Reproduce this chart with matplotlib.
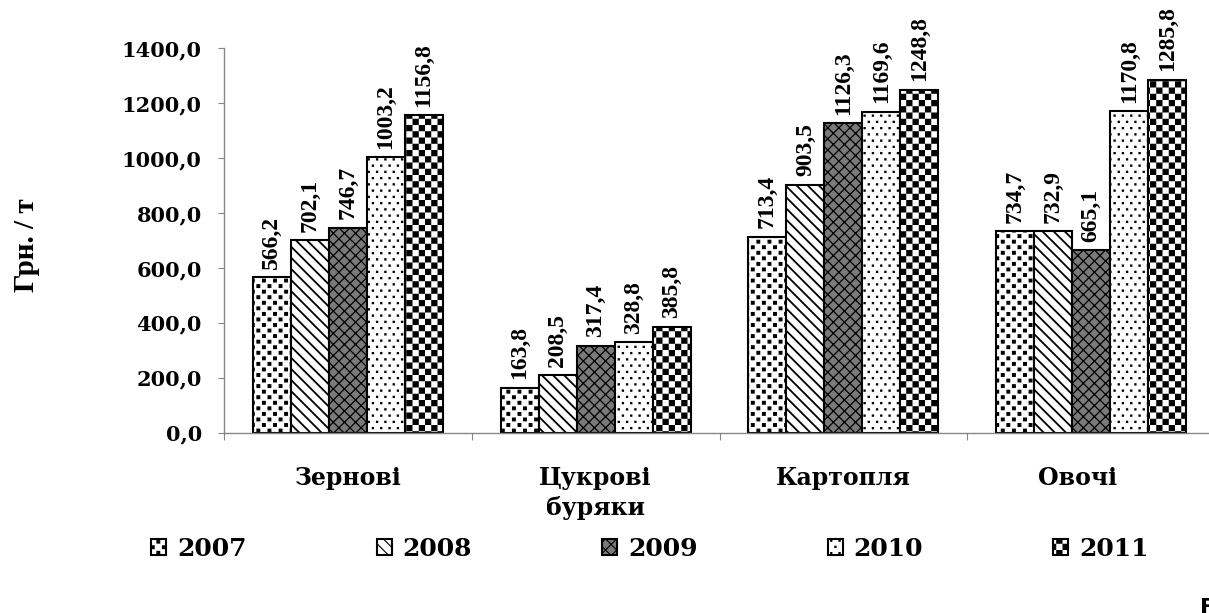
import warnings
warnings.filterwarnings('ignore')
import numpy as np
import matplotlib
matplotlib.use('Agg')
import matplotlib.pyplot as plt
import matplotlib.hatch as mhatch
import matplotlib.transforms as mtrans
from matplotlib.path import Path

# ---------------- data ----------------
categories = ['Зернові', 'Цукрові\nбуряки', 'Картопля', 'Овочі']
years = ['2007', '2008', '2009', '2010', '2011']
v2007 = [566.2, 163.8, 713.4, 734.7]
v2008 = [702.1, 208.5, 903.5, 732.9]
v2009 = [746.7, 317.4, 1126.3, 665.1]
v2010 = [1003.2, 328.8, 1169.6, 1170.8]
v2011 = [1156.8, 385.8, 1248.8, 1285.8]
yticks = [0, 200, 400, 600, 800, 1000, 1200, 1400]
ylabel = 'Грн. / т'

# ---------------- custom fill patterns ----------------
HATCH_LW = 0.8                      # points
LW_U = HATCH_LW / 72.0              # stroke width in hatch-unit coords

mhatch._validate_hatch_pattern = lambda h: None


class _SquaresHatch(mhatch.HatchPatternBase):
    char = None

    def __init__(self, hatch, density):
        self.squares = self.build() if (hatch and self.char in hatch) else []
        self.num_vertices = 5 * len(self.squares)

    def set_vertices_and_codes(self, vertices, codes):
        verts = []
        for cx, cy, s in self.squares:
            h = s / 2
            verts.extend([(cx - h, cy - h), (cx + h, cy - h), (cx + h, cy + h),
                          (cx - h, cy + h), (cx - h, cy - h)])
        vertices[:] = np.array(verts)
        c = np.array([Path.MOVETO, Path.LINETO, Path.LINETO, Path.LINETO,
                      Path.CLOSEPOLY], dtype=Path.code_type)
        codes[:] = np.tile(c, len(self.squares))


class CheckerHatch(_SquaresHatch):
    char = 'c'

    def build(self):
        n = 16
        s = 1.0 / n - LW_U
        return [((i + 0.5) / n, (j + 0.5) / n, s)
                for i in range(n) for j in range(n) if (i + j) % 2 == 0]


class ConfettiHatch(_SquaresHatch):
    char = 'q'

    def build(self):
        nc, nr = 9, 18
        s = 0.028
        out = []
        for r in range(nr):
            off = 0.25 if r % 2 == 0 else 0.75
            for c in range(nc):
                out.append(((c + off) / nc, (r + 0.5) / nr, s))
        return out


class SparseDotsHatch(_SquaresHatch):
    char = 'p'

    def build(self):
        nc, nr = 12, 16
        s = 0.012
        out = []
        for r in range(nr):
            off = 0.25 if r % 2 == 0 else 0.75
            for c in range(nc):
                out.append(((c + off) / nc, (r + 0.5) / nr, s))
        return out


mhatch._hatch_types.extend([CheckerHatch, ConfettiHatch, SparseDotsHatch])
plt.rcParams['hatch.linewidth'] = HATCH_LW

# ---------------- figure ----------------
W, H = 1209, 613
fig = plt.figure(figsize=(W / 100, H / 100), dpi=100)
ax_left, ax_right, ax_bottom, ax_top = 224, 1215, 432.7, 48.3
ax = fig.add_axes([ax_left / W, (H - ax_bottom) / H,
                   (ax_right - ax_left) / W, (ax_bottom - ax_top) / H])

series = [v2007, v2008, v2009, v2010, v2011]
styles = [dict(facecolor='white', hatch='q'),
          dict(facecolor='white', hatch='\\\\\\'),
          dict(facecolor='#7a7a7a', hatch='xxx'),
          dict(facecolor='white', hatch='p'),
          dict(facecolor='white', hatch='c')]
hatch_lws = [HATCH_LW, 1.3, 0.9, HATCH_LW, HATCH_LW]

x = np.arange(len(categories))
bw = 0.1534
handles = []
for i, (vals, st, hlw) in enumerate(zip(series, styles, hatch_lws)):
    bars = ax.bar(x + (i - 2) * bw, vals, width=bw, edgecolor='black',
                  linewidth=1.5, zorder=2, **st)
    for p in bars:
        if hasattr(p, 'set_hatch_linewidth'):
            p.set_hatch_linewidth(hlw)
    handles.append(bars)
    for xi, v in zip(x + (i - 2) * bw, vals):
        ax.annotate(f'{v:.1f}'.replace('.', ','), (xi, v), xytext=(0, 6),
                    textcoords='offset points', rotation=90, ha='center',
                    va='bottom', family='Liberation Serif', fontweight='bold',
                    fontsize=17)

ax.set_xlim(-0.5, len(categories) - 0.5)
ax.set_ylim(0, 1400)

grey = '#868686'
for sp in ['top', 'right']:
    ax.spines[sp].set_visible(False)
for sp in ['left', 'bottom']:
    ax.spines[sp].set_color(grey)
    ax.spines[sp].set_linewidth(1.0)

ax.set_yticks(yticks)
ax.set_yticklabels([f'{t:.1f}'.replace('.', ',') for t in yticks],
                   family='DejaVu Serif', fontweight='bold', fontsize=15)
ax.tick_params(axis='y', direction='out', length=4, color=grey, pad=12)

ax.set_xticks(np.arange(-0.5, len(categories)))
ax.set_xticklabels([])
ax.tick_params(axis='x', direction='out', length=5, color=grey)

label_dx = [0, 0, 0, -14]
for i, (cat, dx) in enumerate(zip(categories, label_dx)):
    tr = ax.get_xaxis_transform() + mtrans.ScaledTranslation(
        dx / 100, -33 / 100, fig.dpi_scale_trans)
    ax.text(i, 0, cat, transform=tr, ha='center', va='top',
            family='DejaVu Serif', fontweight='bold', fontsize=17,
            linespacing=1.35)

fig.text(27 / W, (H - 245) / H, ylabel, rotation=90, ha='center', va='center',
         family='Liberation Serif', fontweight='bold', fontsize=21)

leg = fig.legend(handles, years, loc='center left',
                 bbox_to_anchor=(151 / W, (H - 549) / H),
                 bbox_transform=fig.transFigure, ncol=5, frameon=False,
                 prop=dict(family='DejaVu Serif', weight='bold', size=18),
                 handlelength=0.6, handleheight=0.6, handletextpad=0.44,
                 columnspacing=5.2, borderpad=0, borderaxespad=0)

fig.text(1200 / W, -5 / H, 'F', ha='left', va='bottom', fontsize=16,
         fontweight='bold', family='DejaVu Sans')

fig.savefig('out.png', dpi=100)
